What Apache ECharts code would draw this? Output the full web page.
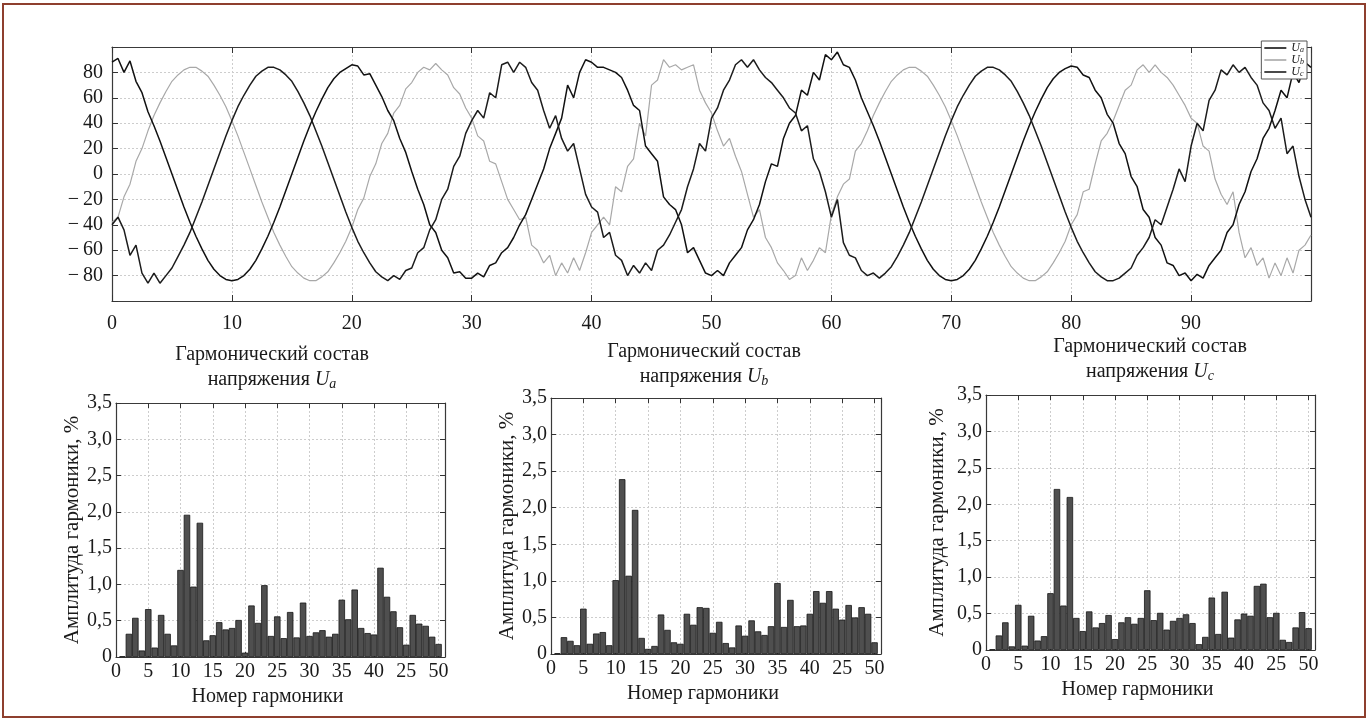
<!DOCTYPE html>
<html><head><meta charset="utf-8">
<script src="https://cdn.jsdelivr.net/npm/echarts@6/dist/echarts.min.js"></script>
<style>html,body{margin:0;padding:0;background:#fff}#c{width:1371px;height:722px}</style>
</head><body><div id="c"></div>
<script>
// ---- Time-domain voltages (sampled every 0.5 units, 0..100) ----
const timeStep = 0.5;
const ua = [
 88,91,80,89,73,64,49,38,26,13,
 0,-13,-26,-38,-49,-59,-68,-75,-80,-83,
 -84,-83,-80,-75,-68,-59,-49,-38,-26,-13,
 0,13,26,38,49,59,68,75,80,83,
 86,85,78,79,70,61,50,42,28,17,
 2,-12,-24,-40,-46,-60,-66,-78,-77,-82,
 -82,-78,-81,-72,-70,-62,-58,-50,-40,-32,
 -20,-8,4,20,32,44,70,60,80,90,
 88,84,84,82,80,76,66,54,50,22,
 16,10,-18,-24,-28,-40,-62,-58,-68,-78,
 -80,-76,-80,-70,-64,-58,-44,-36,-24,-6,
 8,6,28,40,46,66,62,80,74,94,
 90,96,86,84,74,60,49,38,26,13,
 0,-13,-26,-38,-49,-59,-68,-75,-80,-83,
 -84,-83,-80,-75,-68,-59,-49,-38,-26,-13,
 0,13,26,38,49,59,68,75,80,83,
 85,84,78,76,66,60,47,40,24,16,
 -2,-10,-28,-34,-50,-56,-70,-72,-80,-78,
 -84,-79,-82,-72,-66,-60,-46,-40,-24,-14,
 2,12,28,36,50,66,60,80,72,88,
 84];
const ub = [
 -38,-34,-18,-8,10,20,34,46,56,65,
 73,78,82,84,84,81,77,70,62,53,
 42,30,17,4,-9,-22,-34,-46,-56,-65,
 -73,-78,-82,-84,-84,-81,-77,-70,-62,-53,
 -42,-28,-19,-2,8,24,32,48,54,67,
 72,80,84,82,87,82,78,68,63,52,
 44,30,26,10,8,-6,-20,-28,-36,-34,
 -56,-60,-70,-64,-80,-70,-78,-66,-76,-62,
 -46,-40,-34,-40,-10,-14,6,12,40,30,
 70,74,90,84,86,82,84,86,66,56,
 48,34,22,28,14,2,-16,-34,-28,-50,
 -58,-70,-76,-83,-80,-66,-76,-68,-58,-62,
 -32,-18,-8,-4,18,24,34,46,56,65,
 73,78,82,84,84,81,77,70,62,53,
 42,30,17,4,-9,-22,-34,-46,-56,-65,
 -73,-78,-82,-84,-84,-81,-77,-70,-62,-53,
 -40,-32,-14,-12,8,26,32,42,54,66,
 70,82,86,80,86,80,76,70,62,54,
 44,40,22,18,-4,-16,-24,-14,-46,-66,
 -58,-72,-66,-82,-70,-80,-66,-78,-60,-56,
 -48];
const uc = [
 -40,-34,-44,-64,-56,-78,-86,-78,-86,-80,
 -74,-65,-56,-46,-34,-22,-9,4,17,30,
 42,53,62,70,77,81,84,84,82,78,
 73,65,56,46,34,22,9,-4,-17,-30,
 -42,-53,-62,-70,-77,-81,-84,-80,-83,-76,
 -74,-62,-58,-44,-36,-20,-12,6,14,32,
 42,50,44,64,60,86,88,80,88,84,
 72,66,50,36,46,28,18,24,4,-16,
 -26,-30,-50,-46,-64,-68,-80,-72,-78,-70,
 -76,-60,-56,-48,-38,-28,-10,4,24,18,
 44,52,66,74,86,90,84,90,82,76,
 72,66,60,52,48,34,38,12,2,-14,
 -34,-20,-54,-64,-66,-76,-80,-78,-82,-78,
 -73,-65,-56,-46,-34,-22,-9,4,17,30,
 42,53,62,70,77,81,84,84,82,78,
 73,65,56,46,34,22,9,-4,-17,-30,
 -42,-53,-62,-70,-77,-81,-84,-84,-82,-78,
 -74,-64,-58,-50,-36,-40,-26,-12,4,-6,
 22,40,34,58,66,82,78,86,80,84,
 76,70,56,50,36,44,16,22,-2,-20,
 -34];
const timeTickLabels = ['0','10','20','30','40','50','60','70','80','90'];
const voltTickLabels = ['\u2212\u200980','\u2212\u200960','\u2212\u200940','\u2212\u200920','0','20','40','60','80'];

// ---- Harmonic spectra (harmonic number 1..50), % ----
const harmonics = [1,2,3,4,5,6,7,8,9,10,11,12,13,14,15,16,17,18,19,20,21,22,23,24,25,26,27,28,29,30,31,32,33,34,35,36,37,38,39,40,41,42,43,44,45,46,47,48,49,50];
const harmA = [0.01,0.32,0.54,0.09,0.66,0.13,0.58,0.32,0.16,1.20,1.96,0.97,1.85,0.23,0.30,0.48,0.38,0.40,0.51,0.06,0.71,0.47,0.99,0.29,0.56,0.26,0.62,0.27,0.75,0.29,0.34,0.37,0.28,0.32,0.79,0.52,0.93,0.40,0.33,0.31,1.23,0.83,0.63,0.41,0.17,0.58,0.46,0.43,0.28,0.18];
const harmB = [0.01,0.23,0.18,0.12,0.62,0.14,0.28,0.30,0.12,1.01,2.39,1.07,1.97,0.22,0.07,0.11,0.54,0.33,0.16,0.14,0.55,0.40,0.64,0.63,0.29,0.44,0.15,0.09,0.39,0.25,0.46,0.31,0.26,0.38,0.97,0.37,0.74,0.38,0.39,0.55,0.86,0.70,0.86,0.62,0.47,0.67,0.50,0.64,0.55,0.16];
const harmC = [0.01,0.20,0.38,0.05,0.62,0.06,0.47,0.13,0.19,0.78,2.21,0.61,2.10,0.44,0.26,0.53,0.31,0.37,0.48,0.15,0.38,0.45,0.36,0.44,0.82,0.41,0.51,0.28,0.40,0.44,0.49,0.37,0.08,0.18,0.72,0.22,0.80,0.17,0.42,0.50,0.47,0.88,0.91,0.45,0.51,0.14,0.11,0.31,0.52,0.30];
const harmTickLabels = ['0','5','10','15','20','25','30','35','40','25','50'];
const ampTickLabels = ['0','0,5','1,0','1,5','2,0','2,5','3,0','3,5'];

const FONT = '"Liberation Serif","DejaVu Serif",serif';
const INK = '#1a1a1a';
const gridLine = {show:true, lineStyle:{color:'#cdcdcd', type:[2,2], width:1}};

const topGrid = {left:112, top:47, width:1199, height:254};
const barGrids = [
  {left:116, top:403, width:329, height:254},
  {left:551, top:398, width:330, height:256},
  {left:986, top:395, width:329, height:255}
];
const yNameGaps = [31, 30, 38];

const grids = [topGrid].concat(barGrids);
const xAxes = [];
const yAxes = [];

const tickInside = {show:true, inside:true, length:6, lineStyle:{color:'#333'}};
const lineFrame = {show:true, onZero:false, lineStyle:{color:'#3a3a3a', width:1.2}};

// top chart axes
xAxes.push({gridIndex:0, type:'value', min:0, max:100, interval:10, position:'bottom',
  axisLine:lineFrame, axisTick:tickInside, splitLine:gridLine,
  axisLabel:{fontFamily:FONT, fontSize:20, color:INK, margin:13,
    formatter:v => (v < 100 ? timeTickLabels[Math.round(v/10)] : '')}});
xAxes.push({gridIndex:0, type:'value', min:0, max:100, interval:10, position:'top',
  axisLine:lineFrame, axisTick:tickInside, splitLine:{show:false}, axisLabel:{show:false}});
yAxes.push({gridIndex:0, type:'value', min:-100, max:100, interval:20, position:'left',
  axisLine:lineFrame, axisTick:tickInside, splitLine:gridLine,
  axisLabel:{fontFamily:FONT, fontSize:20, color:INK, margin:9,
    formatter:v => (Math.abs(v) >= 100 ? '' : voltTickLabels[Math.round((v+80)/20)])}});
yAxes.push({gridIndex:0, type:'value', min:-100, max:100, interval:20, position:'right',
  axisLine:lineFrame, axisTick:tickInside, splitLine:{show:false}, axisLabel:{show:false}});

barGrids.forEach((g, k) => {
  const gi = k + 1;
  xAxes.push({gridIndex:gi, type:'value', min:0, max:51, interval:5, position:'bottom',
    axisLine:lineFrame, axisTick:Object.assign({}, tickInside, {length:5}), splitLine:gridLine,
    name:'Номер гармоники', nameLocation:'middle', nameGap:30,
    nameTextStyle:{fontFamily:FONT, fontSize:20, color:INK, padding:[0,26,0,0]},
    axisLabel:{fontFamily:FONT, fontSize:20, color:INK, margin:5,
      formatter:v => (v <= 50 ? harmTickLabels[Math.round(v/5)] : '')}});
  xAxes.push({gridIndex:gi, type:'value', min:0, max:51, interval:5, position:'top',
    axisLine:lineFrame, axisTick:Object.assign({}, tickInside, {length:5}), splitLine:{show:false}, axisLabel:{show:false}});
  yAxes.push({gridIndex:gi, type:'value', min:0, max:3.5, interval:0.5, position:'left',
    axisLine:lineFrame, axisTick:Object.assign({}, tickInside, {length:5}), splitLine:gridLine,
    name:'Амплитуда гармоники, %', nameLocation:'middle', nameGap:yNameGaps[k], nameRotate:90,
    nameTextStyle:{fontFamily:FONT, fontSize:21, color:INK},
    axisLabel:{fontFamily:FONT, fontSize:20, color:INK, margin:4,
      formatter:v => ampTickLabels[Math.round(v/0.5)]}});
  yAxes.push({gridIndex:gi, type:'value', min:0, max:3.5, interval:0.5, position:'right',
    axisLine:lineFrame, axisTick:Object.assign({}, tickInside, {length:5}), splitLine:{show:false}, axisLabel:{show:false}});
});

function wave(arr){ return arr.map((v, i) => [i * timeStep, v]); }
function spectrum(arr){ return arr.map((v, i) => [harmonics[i], v]); }

const series = [
  {name:'Ua', type:'line', xAxisIndex:0, yAxisIndex:0, data:wave(ua), symbol:'none', showSymbol:false,
   lineStyle:{color:'#111', width:1.5}, itemStyle:{color:'#111'}, z:2},
  {name:'Ub', type:'line', xAxisIndex:0, yAxisIndex:0, data:wave(ub), symbol:'none', showSymbol:false,
   lineStyle:{color:'#a8a8a8', width:1.2}, itemStyle:{color:'#a8a8a8'}, z:1},
  {name:'Uc', type:'line', xAxisIndex:0, yAxisIndex:0, data:wave(uc), symbol:'none', showSymbol:false,
   lineStyle:{color:'#1c1c1c', width:1.5}, itemStyle:{color:'#1c1c1c'}, z:2}
];
[harmA, harmB, harmC].forEach((arr, k) => {
  series.push({type:'bar', xAxisIndex:2 + 2*k, yAxisIndex:2 + 2*k, data:spectrum(arr), barWidth:'100%',
    itemStyle:{color:'#4f4f4f', borderColor:'#161616', borderWidth:0.8}, z:2});
});

const subs = {Ua:'a', Ub:'b', Uc:'c'};
function titleLines(cx, y1, sub){
  return [
    {type:'text', x:cx, y:y1, style:{text:'Гармонический состав', fontFamily:FONT, fontSize:20, fill:INK,
      align:'center', verticalAlign:'middle', textAlign:'center', textVerticalAlign:'middle'}},
    {type:'text', x:cx, y:y1 + 25, style:{text:'напряжения {u|U}{s|' + sub + '}', fontFamily:FONT, fontSize:20, fill:INK,
      align:'center', verticalAlign:'middle', textAlign:'center', textVerticalAlign:'middle',
      rich:{u:{fontFamily:FONT, fontSize:20, fontStyle:'italic', fill:INK},
            s:{fontFamily:FONT, fontSize:14, fontStyle:'italic', fill:INK, padding:[9,0,0,0]}}}}
  ];
}

const option = {
  animation:false,
  backgroundColor:'#ffffff',
  grid:grids,
  xAxis:xAxes,
  yAxis:yAxes,
  legend:{data:['Ua','Ub','Uc'], orient:'vertical', right:64, top:41, icon:'rect', itemWidth:22, itemHeight:1.6,
    itemGap:0, padding:[1,3,1,3], backgroundColor:'#fff', borderColor:'#555', borderWidth:1, borderRadius:0, z:20,
    formatter:n => '{u|U}{s|' + subs[n] + '}',
    textStyle:{color:INK, lineHeight:12, rich:{u:{fontFamily:FONT, fontSize:12, fontStyle:'italic', color:INK, lineHeight:12},
      s:{fontFamily:FONT, fontSize:8, fontStyle:'italic', color:INK, lineHeight:12, verticalAlign:'bottom'}}}},
  graphic:[
    {type:'rect', shape:{x:3, y:4, width:1362, height:713}, style:{fill:'none', stroke:'#8e3f2e', lineWidth:2}, silent:true}
  ].concat(titleLines(272, 355, 'a'), titleLines(704, 352, 'b'), titleLines(1150, 347, 'c')),
  series:series
};

const chart = echarts.init(document.getElementById('c'), null, {renderer:'canvas'});
chart.setOption(option);
</script>
</body></html>
